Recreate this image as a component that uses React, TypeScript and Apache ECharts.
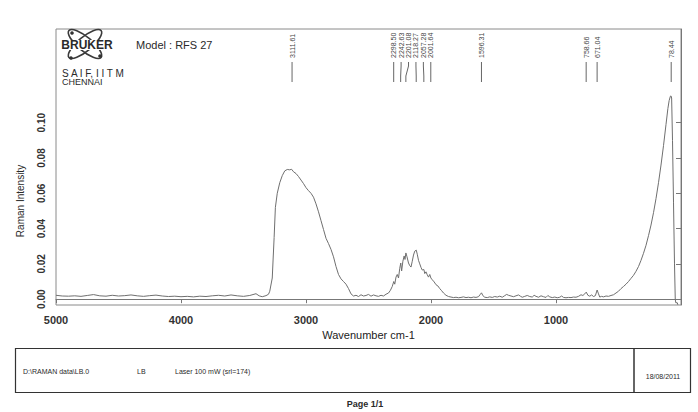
import React, { useEffect, useRef } from "react";
import * as echarts from "echarts";

// Raman spectrum segments: [wavenumber cm-1, intensity]
const highBaseline: [number, number][] = [
  [5000, 0.0022], [4950, 0.0018], [4900, 0.0017], [4850, 0.0019], [4800, 0.0016],
  [4750, 0.0021], [4700, 0.0026], [4650, 0.0019], [4600, 0.0017], [4550, 0.0022],
  [4500, 0.0018], [4450, 0.002], [4400, 0.0024], [4350, 0.0019], [4300, 0.0016],
  [4250, 0.002], [4200, 0.0023], [4150, 0.0018], [4100, 0.0015], [4050, 0.0017],
  [4000, 0.0014], [3950, 0.0016], [3900, 0.0013], [3850, 0.0017], [3800, 0.0015],
  [3750, 0.0019], [3700, 0.0022], [3650, 0.0018], [3600, 0.0024], [3550, 0.0019],
  [3500, 0.0016], [3450, 0.0021], [3400, 0.0031], [3375, 0.0019], [3350, 0.0014],
  [3320, 0.002], [3300, 0.0028],
];
const chBand: [number, number][] = [
  [3290, 0.0045], [3270, 0.012], [3255, 0.035], [3245, 0.052], [3230, 0.06],
  [3210, 0.066], [3190, 0.07], [3170, 0.0727], [3150, 0.0735], [3130, 0.0733],
  [3115, 0.0736], [3100, 0.0722], [3080, 0.0712], [3060, 0.0695], [3040, 0.0675],
  [3020, 0.0655], [3000, 0.0632], [2980, 0.0615], [2960, 0.06], [2940, 0.0578],
  [2920, 0.054], [2900, 0.0495], [2880, 0.0445], [2860, 0.0395], [2840, 0.0345],
  [2820, 0.0315], [2800, 0.0282], [2780, 0.024], [2760, 0.0185], [2740, 0.014],
  [2720, 0.0115], [2700, 0.01], [2680, 0.0085], [2660, 0.006], [2640, 0.003],
  [2620, 0.0018],
];
const midBaseline: [number, number][] = [
  [2600, 0.0022], [2580, 0.0015], [2560, 0.0025], [2540, 0.0018], [2520, 0.0021],
  [2500, 0.0027], [2480, 0.0017], [2460, 0.0024], [2440, 0.0019], [2420, 0.0016],
  [2400, 0.0022], [2380, 0.0018], [2360, 0.0028],
];
const clusterBand: [number, number][] = [
  [2340, 0.0035], [2325, 0.005], [2310, 0.0072], [2298, 0.01], [2290, 0.0085],
  [2280, 0.0125], [2270, 0.014], [2260, 0.012], [2250, 0.0175], [2242, 0.0205],
  [2235, 0.016], [2225, 0.0215], [2215, 0.0245], [2208, 0.0225], [2201, 0.0262],
  [2192, 0.024], [2180, 0.0205], [2170, 0.019], [2160, 0.0182], [2150, 0.0215],
  [2140, 0.025], [2130, 0.0272], [2118, 0.0278], [2110, 0.0255], [2100, 0.022],
  [2090, 0.02], [2080, 0.018], [2070, 0.0165], [2057, 0.0168], [2050, 0.0145],
  [2040, 0.0155], [2030, 0.0138], [2020, 0.0125], [2010, 0.014], [2001, 0.012],
  [1990, 0.011], [1975, 0.0098], [1960, 0.0082], [1945, 0.0075], [1930, 0.006],
  [1915, 0.0048], [1900, 0.0035], [1880, 0.0022], [1860, 0.0015],
];
const lowBaseline: [number, number][] = [
  [1840, 0.0012], [1820, 0.0009], [1800, 0.0011], [1780, 0.0008], [1760, 0.001],
  [1740, 0.0013], [1720, 0.0009], [1700, 0.0011], [1680, 0.0008], [1660, 0.0012],
  [1640, 0.001], [1620, 0.0014], [1605, 0.0028], [1596, 0.0036], [1585, 0.002],
  [1570, 0.0011], [1550, 0.0009], [1530, 0.0013], [1510, 0.001], [1490, 0.0015],
  [1470, 0.0012], [1450, 0.0017], [1430, 0.0011], [1410, 0.002], [1395, 0.0027],
  [1380, 0.0022], [1360, 0.0018], [1340, 0.0014], [1320, 0.0019], [1300, 0.0024],
  [1285, 0.0017], [1270, 0.0011], [1250, 0.0016], [1230, 0.0021], [1210, 0.0015],
  [1190, 0.0012], [1175, 0.0022], [1160, 0.0016], [1140, 0.0011], [1120, 0.0019],
  [1100, 0.0014], [1080, 0.001], [1065, 0.0021], [1050, 0.0013], [1030, 0.0009],
  [1010, 0.0012], [990, 0.0008], [970, 0.0011], [955, 0.0018], [940, 0.001],
  [920, 0.0008], [900, 0.001], [880, 0.0009], [860, 0.0012], [840, 0.0011],
  [820, 0.0016], [800, 0.0025], [785, 0.0021], [770, 0.003], [758, 0.004],
  [745, 0.0022], [730, 0.0017], [715, 0.0024], [700, 0.0015], [685, 0.002],
  [671, 0.0052], [660, 0.003], [650, 0.0012], [635, 0.0016], [620, 0.0013],
  [600, 0.0018], [580, 0.0016], [560, 0.0021], [540, 0.0025],
];
const latticeBand: [number, number][] = [
  [520, 0.0035], [500, 0.0045], [480, 0.006], [460, 0.0072], [440, 0.0085],
  [420, 0.01], [400, 0.0118], [380, 0.0135], [360, 0.0158], [340, 0.0185],
  [320, 0.022], [300, 0.026], [280, 0.0305], [260, 0.036], [240, 0.042],
  [220, 0.049], [200, 0.057], [180, 0.066], [160, 0.076], [140, 0.087],
  [120, 0.099], [105, 0.108], [95, 0.1125], [85, 0.115], [80, 0.1152],
  [75, 0.114], [68, 0.09], [60, 0.055], [52, 0.02], [46, 0.0], [42, -0.002],
  [30, -0.002], [25, -0.0032],
];

const xTickValues = [5000, 4000, 3000, 2000, 1000];
const yTickValues = [0, 0.02, 0.04, 0.06, 0.08, 0.1];

const peakPositions = [3111.61, 2298.5, 2242.63, 2201.08, 2118.27, 2057.28, 2001.64, 1596.31, 758.66, 671.04, 78.44];
const peakLabels = ["3111.61", "2298.50", "2242.63", "2201.08", "2118.27", "2057.28", "2001.64", "1596.31", "758.66", "671.04", "78.44"];
const clusterRange = [2001.64, 2298.5];

const spectrum = [
  ...highBaseline,
  ...chBand,
  ...midBaseline,
  ...clusterBand,
  ...lowBaseline,
  ...latticeBand,
];

const FONT = "Arial, 'Liberation Sans', Helvetica, sans-serif";

export default function App() {
  const ref = useRef<HTMLDivElement>(null);

  useEffect(() => {
    if (!ref.current) return;
    const chart = echarts.init(ref.current, undefined, { renderer: "svg" });

    const clusterIdx = peakPositions
      .map((p, i) => (p >= clusterRange[0] && p <= clusterRange[1] ? i : -1))
      .filter((i) => i >= 0);

    const option: any = {
      animation: false,
      backgroundColor: "#ffffff",
      grid: {
        left: 56,
        right: 17,
        top: 29,
        bottom: 107,
        show: true,
        borderColor: "#8a8a8a",
        borderWidth: 1,
        backgroundColor: "transparent",
      },
      xAxis: {
        type: "value",
        min: 0,
        max: 5000,
        inverse: true,
        name: "Wavenumber cm-1",
        nameLocation: "middle",
        nameGap: 26,
        nameTextStyle: { fontFamily: FONT, fontSize: 11, color: "#222", verticalAlign: "middle" },
        axisLine: { show: true, lineStyle: { color: "#777", width: 1 } },
        axisTick: { show: true, customValues: xTickValues, length: 4, inside: false, lineStyle: { color: "#777" } },
        axisLabel: {
          customValues: xTickValues,
          fontFamily: FONT,
          fontSize: 11,
          fontWeight: "bold",
          color: "#333",
          margin: 9,
          formatter: (v: number) => String(v),
        },
        splitLine: { show: false },
      },
      yAxis: {
        type: "value",
        min: -0.0033,
        max: 0.1531,
        axisLine: { show: true, lineStyle: { color: "#777", width: 1 } },
        axisTick: { show: true, customValues: yTickValues, length: 5, lineStyle: { color: "#777" } },
        axisLabel: {
          customValues: yTickValues,
          rotate: 90,
          fontFamily: FONT,
          fontSize: 10,
          fontWeight: "bold",
          color: "#333",
          margin: 10,
          formatter: (v: number) => v.toFixed(2),
        },
        splitLine: { show: false },
      },
      series: [
        {
          type: "line",
          data: spectrum,
          showSymbol: false,
          symbol: "none",
          lineStyle: { color: "#6f6f6f", width: 1 },
          silent: true,
        },
        {
          type: "custom",
          silent: true,
          data: peakPositions.map((p) => [p, 0.13]),
          encode: { x: 0, y: 1 },
          renderItem: (params: any, api: any) => {
            const idx = params.dataIndex;
            const px = api.coord([api.value(0), 0])[0];
            const top = params.coordSys.y;
            let lx = px;
            const k = clusterIdx.indexOf(idx);
            if (k >= 0) {
              const firstX = api.coord([peakPositions[clusterIdx[0]], 0])[0];
              const lastX = api.coord([peakPositions[clusterIdx[clusterIdx.length - 1]], 0])[0];
              lx = firstX + ((lastX - firstX) * k) / (clusterIdx.length - 1);
            }
            const pts =
              k >= 0
                ? [[lx, top + 33], [lx, top + 37], [px, top + 47], [px, top + 53]]
                : [[px, top + 33], [px, top + 53]];
            return {
              type: "group",
              children: [
                {
                  type: "polyline",
                  shape: { points: pts },
                  style: { stroke: "#666", lineWidth: 1, fill: null },
                },
                {
                  type: "text",
                  x: lx,
                  y: top + 29,
                  rotation: Math.PI / 2,
                  style: {
                    text: peakLabels[idx],
                    fontSize: 7,
                    fontFamily: FONT,
                    fill: "#444",
                    align: "left",
                    verticalAlign: "middle",
                  },
                },
              ],
            };
          },
        },
      ],
      graphic: [
        // BRUKER logo orbits
        {
          type: "ellipse",
          x: 85, y: 44, rotation: Math.PI / 4.5,
          shape: { cx: 0, cy: 0, rx: 21, ry: 7 },
          style: { fill: "none", stroke: "#3a3a3a", lineWidth: 1.6 },
          silent: true,
        },
        {
          type: "ellipse",
          x: 85, y: 44, rotation: -Math.PI / 4.5,
          shape: { cx: 0, cy: 0, rx: 21, ry: 7 },
          style: { fill: "none", stroke: "#3a3a3a", lineWidth: 1.6 },
          silent: true,
        },
        { type: "circle", shape: { cx: 72, cy: 33, r: 1.8 }, style: { fill: "#333" }, silent: true },
        { type: "circle", shape: { cx: 100, cy: 56, r: 1.8 }, style: { fill: "#333" }, silent: true },
        { type: "circle", shape: { cx: 71, cy: 58, r: 1.8 }, style: { fill: "#333" }, silent: true },
        {
          type: "rect",
          shape: { x: 58, y: 40, width: 58, height: 10 },
          style: { fill: "#ffffff" },
          silent: true,
        },
        {
          type: "text",
          x: 87, y: 45,
          style: { text: "BRUKER", fontFamily: FONT, fontSize: 12, fontWeight: "bold", fill: "#2a2a2a", align: "center", verticalAlign: "middle" },
          silent: true,
        },
        {
          type: "text",
          x: 136, y: 45,
          style: { text: "Model : RFS 27", fontFamily: FONT, fontSize: 11, fill: "#2a2a2a", align: "left", verticalAlign: "middle" },
          silent: true,
        },
        {
          type: "text",
          x: 62, y: 73,
          style: { text: "S A I F, I I T M", fontFamily: FONT, fontSize: 10, fill: "#2a2a2a", align: "left", verticalAlign: "middle" },
          silent: true,
        },
        {
          type: "text",
          x: 62, y: 82,
          style: { text: "CHENNAI", fontFamily: FONT, fontSize: 9, fill: "#2a2a2a", align: "left", verticalAlign: "middle" },
          silent: true,
        },
        // y axis title
        {
          type: "text",
          x: 20, y: 201, rotation: Math.PI / 2,
          style: { text: "Raman Intensity", fontFamily: FONT, fontSize: 10, fill: "#2a2a2a", align: "center", verticalAlign: "middle" },
          silent: true,
        },
        // footer box
        {
          type: "rect",
          shape: { x: 15.5, y: 348.5, width: 675, height: 44 },
          style: { fill: "none", stroke: "#333", lineWidth: 1.2 },
          silent: true,
        },
        {
          type: "line",
          shape: { x1: 634, y1: 348.5, x2: 634, y2: 392.5 },
          style: { stroke: "#333", lineWidth: 1.5 },
          silent: true,
        },
        {
          type: "text",
          x: 23, y: 371,
          style: { text: "D:\\RAMAN data\\LB.0", fontFamily: FONT, fontSize: 7, fill: "#2a2a2a", align: "left", verticalAlign: "middle" },
          silent: true,
        },
        {
          type: "text",
          x: 137, y: 371,
          style: { text: "LB", fontFamily: FONT, fontSize: 7, fill: "#2a2a2a", align: "left", verticalAlign: "middle" },
          silent: true,
        },
        {
          type: "text",
          x: 175, y: 371,
          style: { text: "Laser 100 mW (srl=174)", fontFamily: FONT, fontSize: 7, fill: "#2a2a2a", align: "left", verticalAlign: "middle" },
          silent: true,
        },
        {
          type: "text",
          x: 663, y: 376,
          style: { text: "18/08/2011", fontFamily: FONT, fontSize: 7, fill: "#2a2a2a", align: "center", verticalAlign: "middle" },
          silent: true,
        },
        {
          type: "text",
          x: 365, y: 404,
          style: { text: "Page 1/1", fontFamily: FONT, fontSize: 9, fontWeight: "bold", fill: "#2a2a2a", align: "center", verticalAlign: "middle" },
          silent: true,
        },
      ],
    };

    chart.setOption(option);
    return () => chart.dispose();
  }, []);

  return (
    <div
      ref={ref}
      style={{ position: "fixed", left: 0, top: 0, width: 698, height: 412 }}
    />
  );
}
